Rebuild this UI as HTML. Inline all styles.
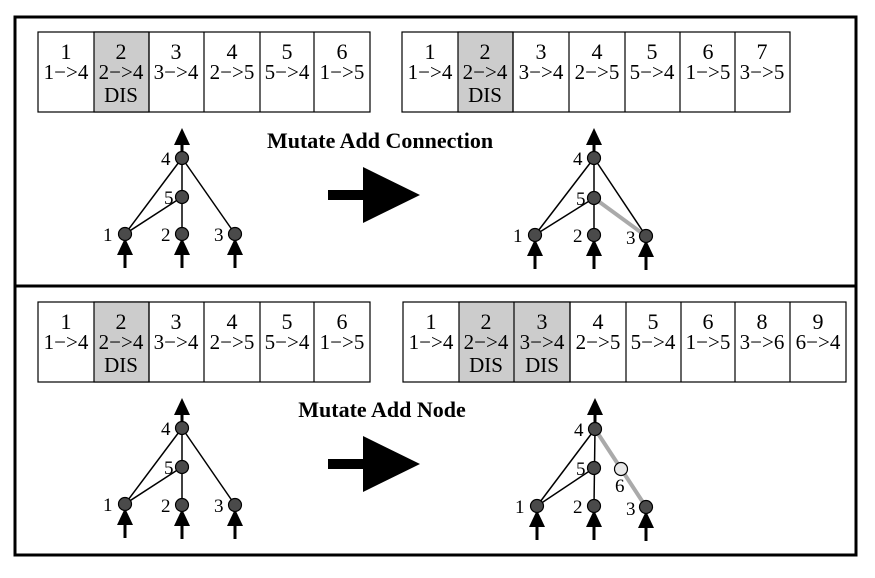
<!DOCTYPE html><html><head><style>body{margin:0;background:#fff}svg{display:block}</style></head><body>
<svg width="875" height="578" viewBox="0 0 875 578" xmlns="http://www.w3.org/2000/svg" font-family="Liberation Serif, serif">
<defs>
<g id="up"><polygon points="0,0 -8,17 8,17" fill="#000"/><line x1="0" y1="10" x2="0" y2="30" stroke="#000" stroke-width="3"/></g>
<g id="big"><rect x="0" y="-5" width="37" height="10" fill="#000"/><polygon points="35,-28 92,0 35,28" fill="#000"/></g>
</defs>
<rect x="15" y="17" width="841" height="269" fill="none" stroke="#000" stroke-width="3"/>
<rect x="15" y="286" width="841" height="269" fill="none" stroke="#000" stroke-width="3"/>
<g font-size="21" text-anchor="middle">
<g stroke="#000" stroke-width="1.2">
<rect x="38" y="32" width="332" height="80" fill="#fff"/><rect x="94" y="32" width="55" height="80" fill="#ccc"/>
<line x1="149" y1="32" x2="149" y2="112"/><line x1="204" y1="32" x2="204" y2="112"/><line x1="260" y1="32" x2="260" y2="112"/><line x1="314" y1="32" x2="314" y2="112"/>
</g>
<g font-size="22"><text x="66" y="59">1</text><text x="121" y="59">2</text><text x="176" y="59">3</text><text x="232" y="59">4</text><text x="287" y="59">5</text><text x="342" y="59">6</text></g>
<text x="66" y="79">1−&gt;4</text><text x="121" y="79">2−&gt;4</text><text x="121" y="102">DIS</text><text x="176" y="79">3−&gt;4</text><text x="232" y="79">2−&gt;5</text><text x="287" y="79">5−&gt;4</text><text x="342" y="79">1−&gt;5</text>
<g stroke="#000" stroke-width="1.2">
<rect x="402" y="32" width="388" height="80" fill="#fff"/><rect x="458" y="32" width="55" height="80" fill="#ccc"/>
<line x1="513" y1="32" x2="513" y2="112"/><line x1="569" y1="32" x2="569" y2="112"/><line x1="625" y1="32" x2="625" y2="112"/><line x1="680" y1="32" x2="680" y2="112"/><line x1="735" y1="32" x2="735" y2="112"/>
</g>
<g font-size="22"><text x="430" y="59">1</text><text x="485" y="59">2</text><text x="541" y="59">3</text><text x="597" y="59">4</text><text x="652" y="59">5</text><text x="708" y="59">6</text><text x="762" y="59">7</text></g>
<text x="430" y="79">1−&gt;4</text><text x="485" y="79">2−&gt;4</text><text x="485" y="102">DIS</text><text x="541" y="79">3−&gt;4</text><text x="597" y="79">2−&gt;5</text><text x="652" y="79">5−&gt;4</text><text x="708" y="79">1−&gt;5</text><text x="762" y="79">3−&gt;5</text>
<g stroke="#000" stroke-width="1.2">
<rect x="38" y="302" width="332" height="80" fill="#fff"/><rect x="94" y="302" width="55" height="80" fill="#ccc"/>
<line x1="149" y1="302" x2="149" y2="382"/><line x1="204" y1="302" x2="204" y2="382"/><line x1="260" y1="302" x2="260" y2="382"/><line x1="314" y1="302" x2="314" y2="382"/>
</g>
<g font-size="22"><text x="66" y="329">1</text><text x="121" y="329">2</text><text x="176" y="329">3</text><text x="232" y="329">4</text><text x="287" y="329">5</text><text x="342" y="329">6</text></g>
<text x="66" y="349">1−&gt;4</text><text x="121" y="349">2−&gt;4</text><text x="121" y="372">DIS</text><text x="176" y="349">3−&gt;4</text><text x="232" y="349">2−&gt;5</text><text x="287" y="349">5−&gt;4</text><text x="342" y="349">1−&gt;5</text>
<g stroke="#000" stroke-width="1.2">
<rect x="403" y="302" width="443" height="80" fill="#fff"/><rect x="459" y="302" width="111" height="80" fill="#ccc"/>
<line x1="514" y1="302" x2="514" y2="382"/><line x1="570" y1="302" x2="570" y2="382"/><line x1="626" y1="302" x2="626" y2="382"/><line x1="681" y1="302" x2="681" y2="382"/><line x1="735" y1="302" x2="735" y2="382"/><line x1="790" y1="302" x2="790" y2="382"/>
</g>
<g font-size="22"><text x="431" y="329">1</text><text x="486" y="329">2</text><text x="542" y="329">3</text><text x="598" y="329">4</text><text x="653" y="329">5</text><text x="708" y="329">6</text><text x="762" y="329">8</text><text x="818" y="329">9</text></g>
<text x="431" y="349">1−&gt;4</text><text x="486" y="349">2−&gt;4</text><text x="486" y="372">DIS</text><text x="542" y="349">3−&gt;4</text><text x="542" y="372">DIS</text><text x="598" y="349">2−&gt;5</text><text x="653" y="349">5−&gt;4</text><text x="708" y="349">1−&gt;5</text><text x="762" y="349">3−&gt;6</text><text x="818" y="349">6−&gt;4</text>
</g>
<text x="380" y="148" font-size="22" font-weight="bold" text-anchor="middle">Mutate Add Connection</text>
<text x="382" y="417" font-size="22" font-weight="bold" text-anchor="middle">Mutate Add Node</text>
<use href="#big" x="328" y="195"/>
<use href="#big" x="328" y="464"/>
<g font-size="19">
<g stroke="#000" stroke-width="1.5"><line x1="182" y1="158" x2="125" y2="234"/><line x1="182" y1="158" x2="182" y2="234"/><line x1="182" y1="158" x2="235" y2="234"/><line x1="182" y1="197" x2="125" y2="234"/></g>
<use href="#up" x="182" y="128"/><use href="#up" x="125" y="238"/><use href="#up" x="182" y="238"/><use href="#up" x="235" y="238"/>
<g fill="#4a4a4a" stroke="#000" stroke-width="1.2"><circle cx="182" cy="158" r="6.5"/><circle cx="182" cy="197" r="6.5"/><circle cx="125" cy="234" r="6.5"/><circle cx="182" cy="234" r="6.5"/><circle cx="235" cy="234" r="6.5"/></g>
<text x="161" y="165">4</text><text x="164" y="204">5</text><text x="103" y="241">1</text><text x="161" y="241">2</text><text x="214" y="241">3</text>
<g stroke="#000" stroke-width="1.5"><line x1="594" y1="158" x2="535" y2="235"/><line x1="594" y1="158" x2="594" y2="235"/><line x1="594" y1="158" x2="646" y2="236"/><line x1="594" y1="198" x2="535" y2="235"/></g>
<line x1="594" y1="198" x2="646" y2="236" stroke="#aaa" stroke-width="4"/>
<use href="#up" x="594" y="128"/><use href="#up" x="535" y="239"/><use href="#up" x="594" y="239"/><use href="#up" x="646" y="240"/>
<g fill="#4a4a4a" stroke="#000" stroke-width="1.2"><circle cx="594" cy="158" r="6.5"/><circle cx="594" cy="198" r="6.5"/><circle cx="535" cy="235" r="6.5"/><circle cx="594" cy="235" r="6.5"/><circle cx="646" cy="236" r="6.5"/></g>
<text x="573" y="165">4</text><text x="576" y="205">5</text><text x="513" y="242">1</text><text x="573" y="242">2</text><text x="626" y="244">3</text>
<g stroke="#000" stroke-width="1.5"><line x1="182" y1="428" x2="125" y2="504"/><line x1="182" y1="428" x2="182" y2="505"/><line x1="182" y1="428" x2="235" y2="505"/><line x1="182" y1="467" x2="125" y2="504"/></g>
<use href="#up" x="182" y="398"/><use href="#up" x="125" y="508"/><use href="#up" x="182" y="509"/><use href="#up" x="235" y="509"/>
<g fill="#4a4a4a" stroke="#000" stroke-width="1.2"><circle cx="182" cy="428" r="6.5"/><circle cx="182" cy="467" r="6.5"/><circle cx="125" cy="504" r="6.5"/><circle cx="182" cy="505" r="6.5"/><circle cx="235" cy="505" r="6.5"/></g>
<text x="161" y="435">4</text><text x="164" y="474">5</text><text x="103" y="511">1</text><text x="161" y="512">2</text><text x="214" y="512">3</text>
<g stroke="#000" stroke-width="1.5"><line x1="595" y1="429" x2="537" y2="506"/><line x1="595" y1="429" x2="594" y2="506"/><line x1="594" y1="468" x2="537" y2="506"/></g>
<line x1="595" y1="429" x2="646" y2="507" stroke="#aaa" stroke-width="4"/>
<use href="#up" x="595" y="398"/><use href="#up" x="537" y="510"/><use href="#up" x="594" y="510"/><use href="#up" x="646" y="511"/>
<g fill="#4a4a4a" stroke="#000" stroke-width="1.2"><circle cx="595" cy="429" r="6.5"/><circle cx="594" cy="468" r="6.5"/><circle cx="537" cy="506" r="6.5"/><circle cx="594" cy="506" r="6.5"/><circle cx="646" cy="507" r="6.5"/></g>
<circle cx="621" cy="469" r="6.5" fill="#e8e8e8" stroke="#000" stroke-width="1.2"/>
<text x="574" y="436">4</text><text x="576" y="475">5</text><text x="615" y="492">6</text><text x="515" y="513">1</text><text x="573" y="513">2</text><text x="626" y="515">3</text>
</g>
</svg>
</body></html>
